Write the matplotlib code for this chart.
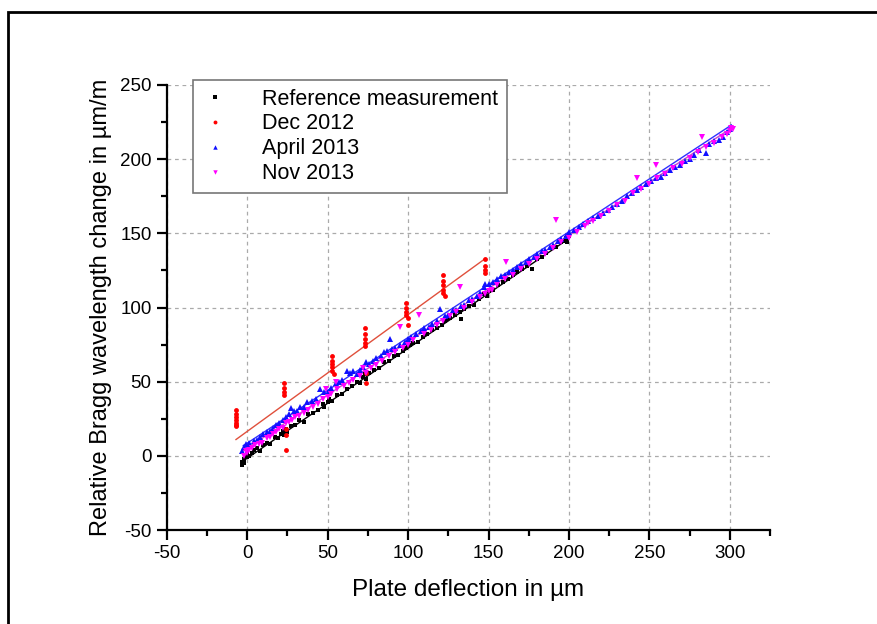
import matplotlib
matplotlib.use('Agg')
import matplotlib.pyplot as plt
from matplotlib.patches import Rectangle
from matplotlib.ticker import MultipleLocator

plt.rcParams['font.family'] = ['Liberation Sans', 'DejaVu Sans']
plt.rcParams['axes.unicode_minus'] = False

# ----- data -----
ref_x = [-3, -3, -2, -2, 0, 0, 1, 3, 4, 6, 8, 10, 12, 14, 17, 19, 21, 22, 23, 24, 25, 27, 30, 32,
         35, 38, 41, 44, 47, 48, 50, 51, 53, 56, 59, 62, 65, 68, 70, 72, 73, 74, 76, 79, 82, 85,
         88, 91, 94, 97, 99, 100, 101, 103, 106, 109, 112, 115, 118, 121, 123, 124, 126, 129,
         132, 133, 135, 138, 141, 144, 147, 148, 149, 150, 153, 156, 159, 162, 165, 168, 171,
         174, 177, 180, 183, 186, 189, 192, 195, 197, 198, 199, 200]
ref_y = [-6, -4, -5, -2, -1, 1, 0, 2, 4, 5, 3, 7, 9, 8, 13, 12, 15, 17, 14, 18, 16, 20, 21, 24,
         23, 28, 29, 31, 35, 33, 36, 38, 37, 41, 42, 45, 47, 50, 49, 53, 55, 52, 56, 58, 59, 63,
         64, 67, 68, 71, 73, 74, 75, 76, 77, 80, 82, 85, 86, 88, 91, 92, 93, 95,
         97, 92, 99, 101, 102, 106, 109, 110, 108, 111, 112, 115, 117, 119, 122, 124, 126,
         128, 126, 133, 134, 137, 140, 141, 144, 145, 147, 144, 148]

dec_x = [-7, -7, -7, -7, -7, -7, -7, 23, 23, 23, 23, 24, 24, 24, 53, 53, 53, 53, 53, 54,
         73, 73, 73, 73, 73, 74, 74, 99, 99, 99, 99, 100, 100, 122, 122, 122, 122, 122, 123,
         148, 148, 148, 148]
dec_y = [31, 28, 26, 24, 22, 21, 20, 49, 46, 43, 41, 18, 14, 4, 67, 64, 62, 60, 57, 55,
         86, 82, 79, 76, 74, 56, 49, 103, 100, 97, 95, 93, 88, 122, 118, 115, 112, 110, 108,
         133, 128, 125, 123]

apr_x = [-3, -2, -1, 0, 1, 2, 4, 6, 8, 10, 12, 14, 16, 18, 20, 22, 24, 26, 27, 29, 31, 33, 35,
         37, 40, 43, 45, 48, 50, 52, 55, 57, 59, 62, 64, 66, 68, 70, 72, 74, 76, 78, 80, 83, 85,
         87, 89, 90, 92, 95, 98, 100, 102, 105, 108, 110, 113, 115, 118, 120, 123, 125, 128,
         130, 133, 135, 138, 140, 143, 145, 147, 148, 150, 153, 155, 158, 160, 163, 165, 168,
         170, 173, 175, 178, 180, 183, 185, 188, 190, 193, 195, 198, 200, 203, 206, 209, 212,
         215, 218, 221, 224, 227, 230, 233, 236, 239, 242, 245, 248, 251, 254, 257, 260, 263,
         266, 269, 272, 275, 278, 281, 285, 287, 290, 293, 296, 298, 300, 301]
apr_y = [3, 6, 8, 5, 9, 7, 10, 11, 13, 15, 16, 17, 19, 21, 22, 24, 26, 28, 32, 30, 30, 33, 33,
         36, 37, 38, 45, 43, 43, 46, 49, 50, 51, 57, 56, 57, 55, 58, 60, 63, 62, 64, 66, 67, 70,
         71, 79, 72, 73, 75, 77, 79, 80, 82, 84, 86, 87, 89, 91, 99, 94, 95, 98,
         98, 101, 102, 105, 106, 108, 110, 114, 116, 116, 117, 119, 121, 122, 124, 125, 127,
         129, 131, 133, 134, 136, 138, 139, 141, 142, 145, 146, 148, 151, 152, 154, 156, 158,
         160, 162, 164, 166, 168, 170, 172, 175, 177, 179, 181, 183, 185, 187, 188, 191, 193,
         195, 196, 199, 200, 203, 206, 204, 210, 212, 213, 215, 218, 220, 222]

nov_x = [-2, -1, 0, 1, 3, 5, 7, 9, 12, 14, 16, 18, 20, 22, 24, 26, 28, 30, 32, 35, 38, 41, 44,
         47, 49, 50, 52, 55, 56, 60, 63, 66, 70, 72, 74, 77, 80, 84, 88, 92, 95, 97, 100, 103,
         107, 110, 114, 118, 122, 126, 130, 132, 135, 140, 145, 148, 150, 152, 155, 160, 161,
         165, 170, 175, 180, 185, 190, 192, 195, 200, 205, 210, 212, 215, 220, 225, 230, 235,
         240, 242, 245, 250, 254, 255, 260, 265, 270, 275, 280, 283, 285, 290, 295, 298, 300,
         301, 302]
nov_y = [0, 3, 2, 4, 5, 7, 8, 9, 12, 13, 15, 16, 18, 19, 22, 23, 24, 26, 27, 29, 31, 33, 35,
         38, 45, 40, 42, 50, 45, 47, 49, 51, 54, 59, 56, 59, 61, 64, 67, 70, 87, 73, 75, 78,
         95, 82, 85, 88, 91, 94, 97, 114, 100, 104, 107, 109, 111, 112, 115, 119, 131,
         122, 126, 129, 133, 136, 140, 159, 144, 147, 151, 155, 157, 158, 162, 165, 169, 172,
         177, 187, 180, 183, 196, 187, 190, 194, 197, 201, 205, 215, 208, 211, 215, 217, 219,
         221, 220]

# linear fits, endpoints as drawn
ref_fit_x, ref_fit_y = [-2.5, 200], [-3.4, 146.5]
dec_fit_x, dec_fit_y = [-7, 148], [11, 133]
apr_fit_x, apr_fit_y = [-2.5, 301], [6.8, 223]
nov_fit_x, nov_fit_y = [-2.5, 301], [3.4, 221]

labels = ['Reference measurement', 'Dec 2012', 'April 2013', 'Nov 2013']

fig = plt.figure(figsize=(8.78, 6.24), dpi=100)
ax = fig.add_axes([0.190, 0.1506, 0.687, 0.7132])

# fit lines
ax.plot(ref_fit_x, ref_fit_y, color='black', lw=1)
ax.plot(dec_fit_x, dec_fit_y, color='#e0503c', lw=1)
ax.plot(apr_fit_x, apr_fit_y, color='#3030ff', lw=1)
ax.plot(nov_fit_x, nov_fit_y, color='#d040d0', lw=1)

# measurements
ax.plot(ref_x, ref_y, 's', color='black', ms=3, mew=0, label=labels[0])
ax.plot(dec_x, dec_y, 'o', color='#ff0000', ms=3.5, mew=0, label=labels[1])
ax.plot(apr_x, apr_y, '^', color='#1010ff', ms=4, mew=0, label=labels[2])
ax.plot(nov_x, nov_y, 'v', color='#ff00ff', ms=4, mew=0, label=labels[3])

ax.set_xlim(-50, 325)
ax.set_ylim(-50, 250)
ax.xaxis.set_major_locator(MultipleLocator(50))
ax.xaxis.set_minor_locator(MultipleLocator(25))
ax.yaxis.set_major_locator(MultipleLocator(50))
ax.yaxis.set_minor_locator(MultipleLocator(25))
ax.set_xticks([-50, 0, 50, 100, 150, 200, 250, 300])

for s in ['top', 'right']:
    ax.spines[s].set_visible(False)
for s in ['left', 'bottom']:
    ax.spines[s].set_linewidth(1.6)

ax.tick_params(which='major', direction='out', length=7, width=1.6, labelsize=13.5, pad=4)
ax.tick_params(which='minor', direction='out', length=4, width=1.6)
ax.grid(True, which='major', color='#aaaaaa', linestyle=(0, (3, 3)), linewidth=0.9)
ax.set_axisbelow(True)

ax.set_xlabel('Plate deflection in µm', fontsize=17.5, labelpad=12)
ax.set_ylabel('Relative Bragg wavelength change in µm/m', fontsize=17, labelpad=6)

leg = ax.legend(loc='upper left', bbox_to_anchor=(193 / 878, 1 - 80 / 624),
                bbox_transform=fig.transFigure, fontsize=15.5, fancybox=False,
                edgecolor='#777777', framealpha=1, borderpad=0.4, labelspacing=0.18,
                handletextpad=1.6, handlelength=1.2, borderaxespad=0, markerscale=0.8)
leg.get_frame().set_linewidth(1.2)

# outer frame of the figure
fig.patches.append(Rectangle((8 / 878, -0.1), 1.2, 1 - 12 / 624 + 0.1,
                             transform=fig.transFigure, fill=False,
                             edgecolor='black', linewidth=2))

fig.savefig('out.png', dpi=100)
